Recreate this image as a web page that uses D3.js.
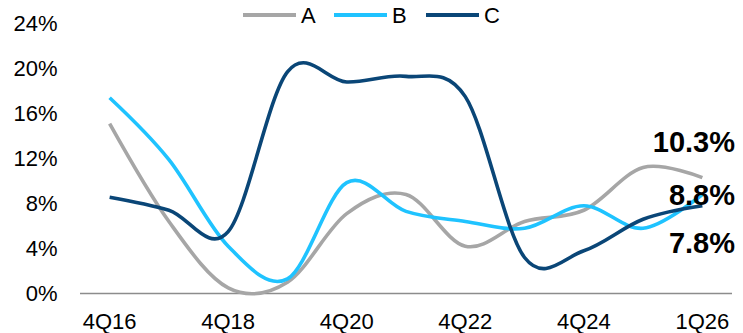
<!DOCTYPE html>
<html>
<head>
<meta charset="utf-8">
<script src="https://cdn.jsdelivr.net/npm/d3@7"></script>
<style>
  html, body { margin: 0; padding: 0; background: #fff; }
  svg { display: block; font-family: "Liberation Sans", Arial, sans-serif; }
</style>
</head>
<body>
<svg id="chart" width="743" height="333"></svg>
<script>
const categories = ["4Q16","4Q17","4Q18","4Q19","4Q20","4Q21","4Q22","4Q23","4Q24","4Q25","1Q26"];
const tickLabels = ["4Q16","4Q18","4Q20","4Q22","4Q24","1Q26"];
const yTicks = [0, 4, 8, 12, 16, 20, 24];
const seriesNames = ["A", "B", "C"];
const valuesA = [15.1, 6.4, 0.5, 1.0, 7.1, 8.8, 4.2, 6.4, 7.4, 11.2, 10.3];
const valuesB = [17.4, 11.9, 4.2, 1.3, 9.85, 7.3, 6.4, 5.8, 7.8, 5.8, 8.8];
const valuesC = [8.55, 7.4, 5.5, 19.7, 18.8, 19.3, 17.5, 3.2, 3.8, 6.6, 7.8];
const endLabels = ["10.3%", "8.8%", "7.8%"];

const colors = ["#a6a6a6", "#1fc3ff", "#0a4677"];
const allSeries = [valuesA, valuesB, valuesC];

const svg = d3.select("#chart");
const x = d3.scaleBand().domain(categories).range([80, 732]).padding(0);
const y = d3.scaleLinear().domain([0, 24]).range([293.5, 23.5]);
const cx = c => x(c) + x.bandwidth() / 2;

// y tick labels
svg.append("g").selectAll("text").data(yTicks).join("text")
  .attr("x", 57.5).attr("y", d => y(d)).attr("dy", "0.36em")
  .attr("text-anchor", "end").attr("font-size", 22).attr("fill", "#000")
  .text(d => d + "%");

// x axis line
svg.append("line")
  .attr("x1", x.range()[0]).attr("x2", x.range()[1])
  .attr("y1", y(0)).attr("y2", y(0))
  .attr("stroke", "#8c8c8c").attr("stroke-width", 1.5);

// x labels
svg.append("g").selectAll("text").data(tickLabels).join("text")
  .attr("x", d => cx(d)).attr("y", 328.5)
  .attr("text-anchor", "middle").attr("font-size", 22).attr("fill", "#000")
  .text(d => d);

// lines
const line = d3.line()
  .x((d, i) => cx(categories[i]))
  .y(d => y(d))
  .curve(d3.curveCardinal.tension(0));

svg.append("g").selectAll("path").data(allSeries).join("path")
  .attr("d", d => line(d))
  .attr("fill", "none")
  .attr("stroke", (d, i) => colors[i])
  .attr("stroke-width", 3.6)
  .attr("stroke-linejoin", "round");

// end labels
const endOffsets = [-26, 10.5, 47];
const endVals = [valuesA[10], valuesB[10], valuesC[10]];
svg.append("g").selectAll("text").data(endLabels).join("text")
  .attr("x", 735).attr("y", (d, i) => y(endVals[i]) + endOffsets[i])
  .attr("text-anchor", "end").attr("font-size", 29).attr("font-weight", "bold").attr("fill", "#000")
  .text(d => d);

// legend
const legendX = [243, 334, 426];
const lg = svg.append("g").selectAll("g").data(seriesNames).join("g")
  .attr("transform", (d, i) => `translate(${legendX[i]},15)`);
lg.append("line").attr("x1", 0).attr("x2", 53).attr("y1", 0).attr("y2", 0)
  .attr("stroke", (d, i) => colors[i]).attr("stroke-width", 4);
lg.append("text").attr("x", 58).attr("y", 7.8)
  .attr("font-size", 22).attr("fill", "#000").text(d => d);
</script>
</body>
</html>
